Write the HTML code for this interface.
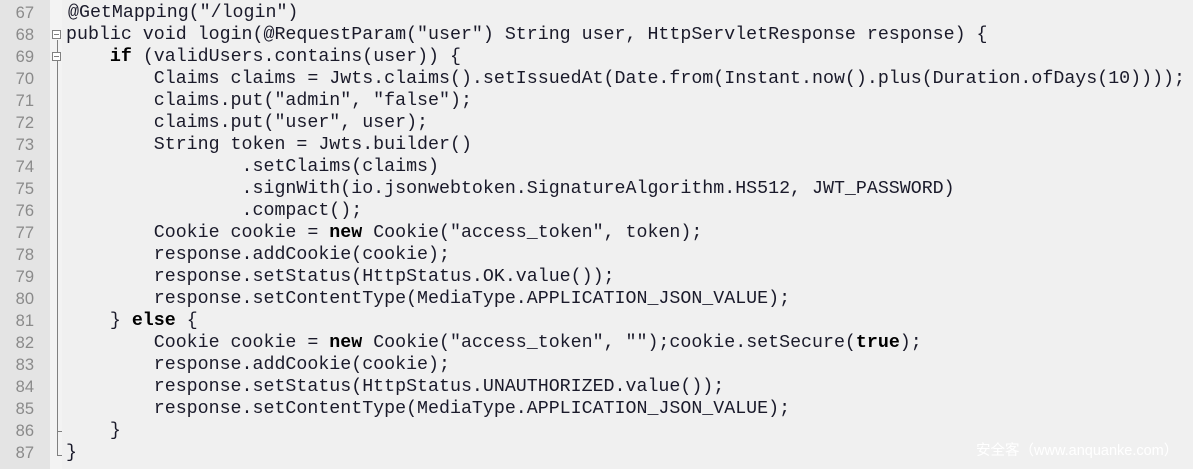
<!DOCTYPE html>
<html><head><meta charset="utf-8"><style>
body{margin:0;width:1193px;height:469px;background:#f0f0f0;overflow:hidden;position:relative;font-family:"Liberation Mono",monospace}
#gut{position:absolute;left:0;top:0;width:50px;height:469px;background:#e4e4e4}
#fold{position:absolute;left:50px;top:0;width:12px;height:469px;background:#f3f3f3}
#vl{position:absolute;left:57px;top:40px;width:1px;height:416px;background:#808080}
.box{position:absolute;left:52px;width:9px;height:9px;border:1px solid #808080;background:#fff;box-sizing:border-box}
.box:after{content:"";position:absolute;left:1px;top:3px;width:5px;height:1px;background:#808080}
.ln{position:absolute;left:0;width:34px;text-align:right;color:#8a8a8a;font-size:16.5px;font-family:"Liberation Sans",sans-serif}
.c{position:absolute;left:66px;white-space:pre;font-size:18.3px;color:#1a1a2a;line-height:22px}
b{color:#000}
#wm{position:absolute;left:976px;top:439px;color:#fff;font-size:14.5px;font-family:"Liberation Sans","Noto Sans CJK SC",sans-serif}
</style></head><body>
<div id="gut"></div><div id="fold"></div><div id="vl"></div>
<div class="box" style="top:30px"></div><div class="box" style="top:52px"></div>
<div style="position:absolute;left:57px;top:431px;width:5px;height:1px;background:#808080"></div>
<div style="position:absolute;left:57px;top:455px;width:5px;height:1px;background:#808080"></div>
<div id="lines"></div>
<div id="wm">安全客（www.anquanke.com）</div>
<script>
var L=['@GetMapping("/login")',
'public void login(@RequestParam("user") String user, HttpServletResponse response) {',
'    <b>if</b> (validUsers.contains(user)) {',
'        Claims claims = Jwts.claims().setIssuedAt(Date.from(Instant.now().plus(Duration.ofDays(10))));',
'        claims.put("admin", "false");',
'        claims.put("user", user);',
'        String token = Jwts.builder()',
'                .setClaims(claims)',
'                .signWith(io.jsonwebtoken.SignatureAlgorithm.HS512, JWT_PASSWORD)',
'                .compact();',
'        Cookie cookie = <b>new</b> Cookie("access_token", token);',
'        response.addCookie(cookie);',
'        response.setStatus(HttpStatus.OK.value());',
'        response.setContentType(MediaType.APPLICATION_JSON_VALUE);',
'    } <b>else</b> {',
'        Cookie cookie = <b>new</b> Cookie("access_token", "");cookie.setSecure(<b>true</b>);',
'        response.addCookie(cookie);',
'        response.setStatus(HttpStatus.UNAUTHORIZED.value());',
'        response.setContentType(MediaType.APPLICATION_JSON_VALUE);',
'    }',
'}'];
var h='';
for(var i=0;i<L.length;i++){var t=2+i*22;
h+='<div class="ln" style="top:'+(t+2)+'px">'+(67+i)+'</div><div class="c" style="top:'+t+'px'+(i==0?';left:68px':'')+'">'+L[i]+'</div>';}
document.getElementById('lines').innerHTML=h;
</script>
</body></html>
